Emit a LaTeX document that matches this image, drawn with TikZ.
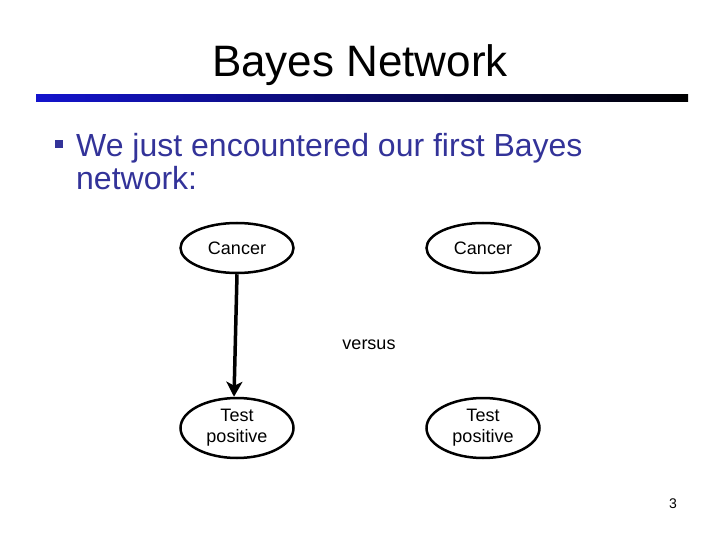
\documentclass[tikz,border=0pt]{standalone}
\usepackage{fontspec}
\setmainfont{Liberation Sans}
\usetikzlibrary{shapes.geometric,arrows.meta}
\definecolor{bodyblue}{RGB}{51,51,153}
\definecolor{barblue}{RGB}{20,20,205}
\begin{document}
\begin{tikzpicture}[x=1pt,y=-1pt,
    varnode/.style={draw, ellipse, line width=2.5pt, minimum width=113pt, inner sep=0pt, align=center, font=\fontsize{18}{21}\selectfont}]
  \useasboundingbox (0,0) rectangle (720,540);
  \node (title) at (360,65) {\fontsize{44}{48}\selectfont Bayes Network};
  \shade [left color=barblue, right color=black] (36,95) rectangle (688,102);
  \fill [bodyblue] (55,140) rectangle (63,148);
  \node [anchor=base west, inner sep=0pt, text=bodyblue, font=\fontsize{32}{36}\selectfont] (line1) at (76,157) {We just encountered our first Bayes};
  \node [anchor=base west, inner sep=0pt, text=bodyblue, font=\fontsize{32}{36}\selectfont] (line2) at (76,190) {network:};
  % the two networks
  \node [varnode, minimum height=50pt] (cancerA) at (237,248) {Cancer};
  \node [varnode, minimum height=60pt] (testA) at (237,428) {Test\\positive};
  \node [varnode, minimum height=50pt] (cancerB) at (483,248) {Cancer};
  \node [varnode, minimum height=60pt] (testB) at (483,428) {Test\\positive};
  \draw [line width=3.5pt, -{Stealth[length=15pt,width=16pt,inset=4pt]}] (cancerA.south) -- ([xshift=-3]testA.north);
  \node [font=\fontsize{18}{21}\selectfont] (versus) at (369,345) {versus};
  \node [font=\fontsize{14}{16}\selectfont] (pagenum) at (673,504) {3};
\end{tikzpicture}
\end{document}
